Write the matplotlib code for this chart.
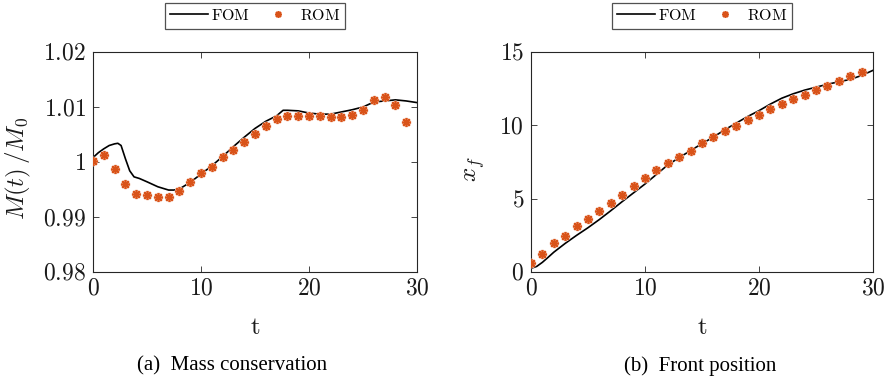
import matplotlib
matplotlib.use("Agg")
import matplotlib.pyplot as plt
import numpy as np

plt.rcParams['mathtext.fontset'] = 'cm'
plt.rcParams['font.family'] = ['Liberation Serif', 'DejaVu Serif']

# ---------------- data: (a) mass conservation ----------------
t_rom = list(range(0, 30))
mass_rom = [1.0001, 1.0013, 0.9987, 0.9960, 0.9942, 0.9940, 0.9937, 0.9937,
            0.9948, 0.9964, 0.9980, 0.9991, 1.0009, 1.0022, 1.0036, 1.0051,
            1.0066, 1.0078, 1.0084, 1.0084, 1.0084, 1.0084, 1.0082, 1.0081,
            1.0086, 1.0094, 1.0113, 1.0119, 1.0103, 1.0072]
t_fom_mass = [0, 0.5, 1, 1.5, 2, 2.3, 2.6, 3, 3.4, 3.8, 4.3, 5, 6, 7, 7.5, 8,
              9, 10, 11, 12, 13, 14, 15, 16, 17, 17.6, 18, 19, 20, 21, 22, 23,
              24, 25, 26, 27, 28, 29, 30]
mass_fom = [1.0008, 1.0017, 1.0024, 1.0030, 1.0033, 1.0034, 1.0030, 1.0006,
            0.9984, 0.9973, 0.9970, 0.9964, 0.9955, 0.9949, 0.9949, 0.9951,
            0.9963, 0.9978, 0.9993, 1.0010, 1.0028, 1.0045, 1.0061, 1.0074,
            1.0084, 1.0094, 1.0094, 1.0093, 1.0089, 1.0087, 1.0087, 1.0091,
            1.0095, 1.0100, 1.0109, 1.0111, 1.0113, 1.0111, 1.0108]

# ---------------- data: (b) front position ----------------
front_rom = [0.60, 1.22, 1.98, 2.47, 3.15, 3.61, 4.14, 4.69, 5.28, 5.84,
             6.38, 6.93, 7.41, 7.86, 8.28, 8.82, 9.23, 9.58, 9.96, 10.37,
             10.73, 11.10, 11.44, 11.79, 12.10, 12.40, 12.70, 13.04, 13.33, 13.64]
t_fom_front = [0, 0.5, 1, 1.5, 2, 3, 4, 5, 6, 7, 8, 9, 10, 11, 12, 13, 14, 15,
               16, 17, 18, 19, 20, 21, 22, 23, 24, 25, 26, 27, 28, 29, 30]
front_fom = [0.25, 0.38, 0.66, 1.0, 1.35, 1.95, 2.5, 3.02, 3.58, 4.18, 4.8,
             5.4, 6.0, 6.65, 7.3, 7.8, 8.28, 8.75, 9.2, 9.7, 10.15, 10.6,
             11.0, 11.45, 11.85, 12.15, 12.4, 12.6, 12.8, 12.97, 13.13, 13.4, 13.75]

mass_yticks = [0.98, 0.99, 1.0, 1.01, 1.02]
mass_yticklabels = ['0.98', '0.99', '1', '1.01', '1.02']
front_yticks = [0, 5, 10, 15]
xticks = [0, 10, 20, 30]

W, H = 887, 385
fig = plt.figure(figsize=(W / 100, H / 100), dpi=100)

def px_axes(x0, x1, y0, y1):
    return fig.add_axes([x0 / W, 1 - y1 / H, (x1 - x0) / W, (y1 - y0) / H])

ax1 = px_axes(93, 417, 52, 272)
ax2 = px_axes(531, 873, 52, 272)

rom_color = '#D95319'
edge = '#262626'

def style(ax, yticks, ylabels, ylabel, ylabel_x):
    ax.set_xlim(0, 30)
    ax.set_xticks(xticks)
    ax.set_xticklabels(['$%d$' % v for v in xticks])
    ax.set_yticks(yticks)
    ax.set_yticklabels(['$%s$' % s for s in ylabels])
    ax.tick_params(direction='in', top=True, right=True, length=4.5, width=0.6,
                   color=edge, labelsize=17, pad=5, labelcolor='#1a1a1a')
    for sp in ax.spines.values():
        sp.set_color(edge)
        sp.set_linewidth(0.8)
    ax.set_xlabel(r'$\mathrm{t}$', fontsize=18, color='#1a1a1a')
    ax.xaxis.set_label_coords(0.5, -0.205)
    ax.set_ylabel(ylabel, fontsize=18, color='#1a1a1a')
    ax.yaxis.set_label_coords(ylabel_x, 0.47)

def draw(ax, tf, yf, yr):
    ax.plot(tf, yf, color='black', lw=1.2, label=r'$\mathrm{FOM}$')
    ax.plot(t_rom, yr, ls='none', marker='o', ms=7, color='#F6CDBB',
            mec='none', zorder=3)
    ax.plot(t_rom, yr, ls='none', marker=(8, 2, 0), ms=6.5, color=rom_color,
            mew=1.2, zorder=4, label=r'$\mathrm{ROM}$')
    leg = ax.legend(loc='center', bbox_to_anchor=(0.5, 1.164), ncol=2,
                    fontsize=11.5, frameon=True, fancybox=False,
                    handlelength=2.4, handletextpad=0.15, columnspacing=0.6,
                    borderpad=0.3, borderaxespad=0, markerscale=0.75)
    leg.get_frame().set_edgecolor(edge)
    leg.get_frame().set_linewidth(0.9)

draw(ax1, t_fom_mass, mass_fom, mass_rom)
ax1.set_ylim(0.98, 1.02)
style(ax1, mass_yticks, mass_yticklabels, r'$M(t)\,/M_0$', -0.185)

draw(ax2, t_fom_front, front_fom, front_rom)
ax2.set_ylim(0, 15)
style(ax2, front_yticks, [str(v) for v in front_yticks], r'$x_f$', -0.128)

fig.text(232 / W, 1 - 366 / H, '(a)  Mass conservation', ha='center',
         va='center', fontsize=15, family=['Liberation Serif'])
fig.text(700 / W, 1 - 366 / H, '(b)  Front position', ha='center',
         va='center', fontsize=15, family=['Liberation Serif'])

fig.savefig('out.png', dpi=100)
